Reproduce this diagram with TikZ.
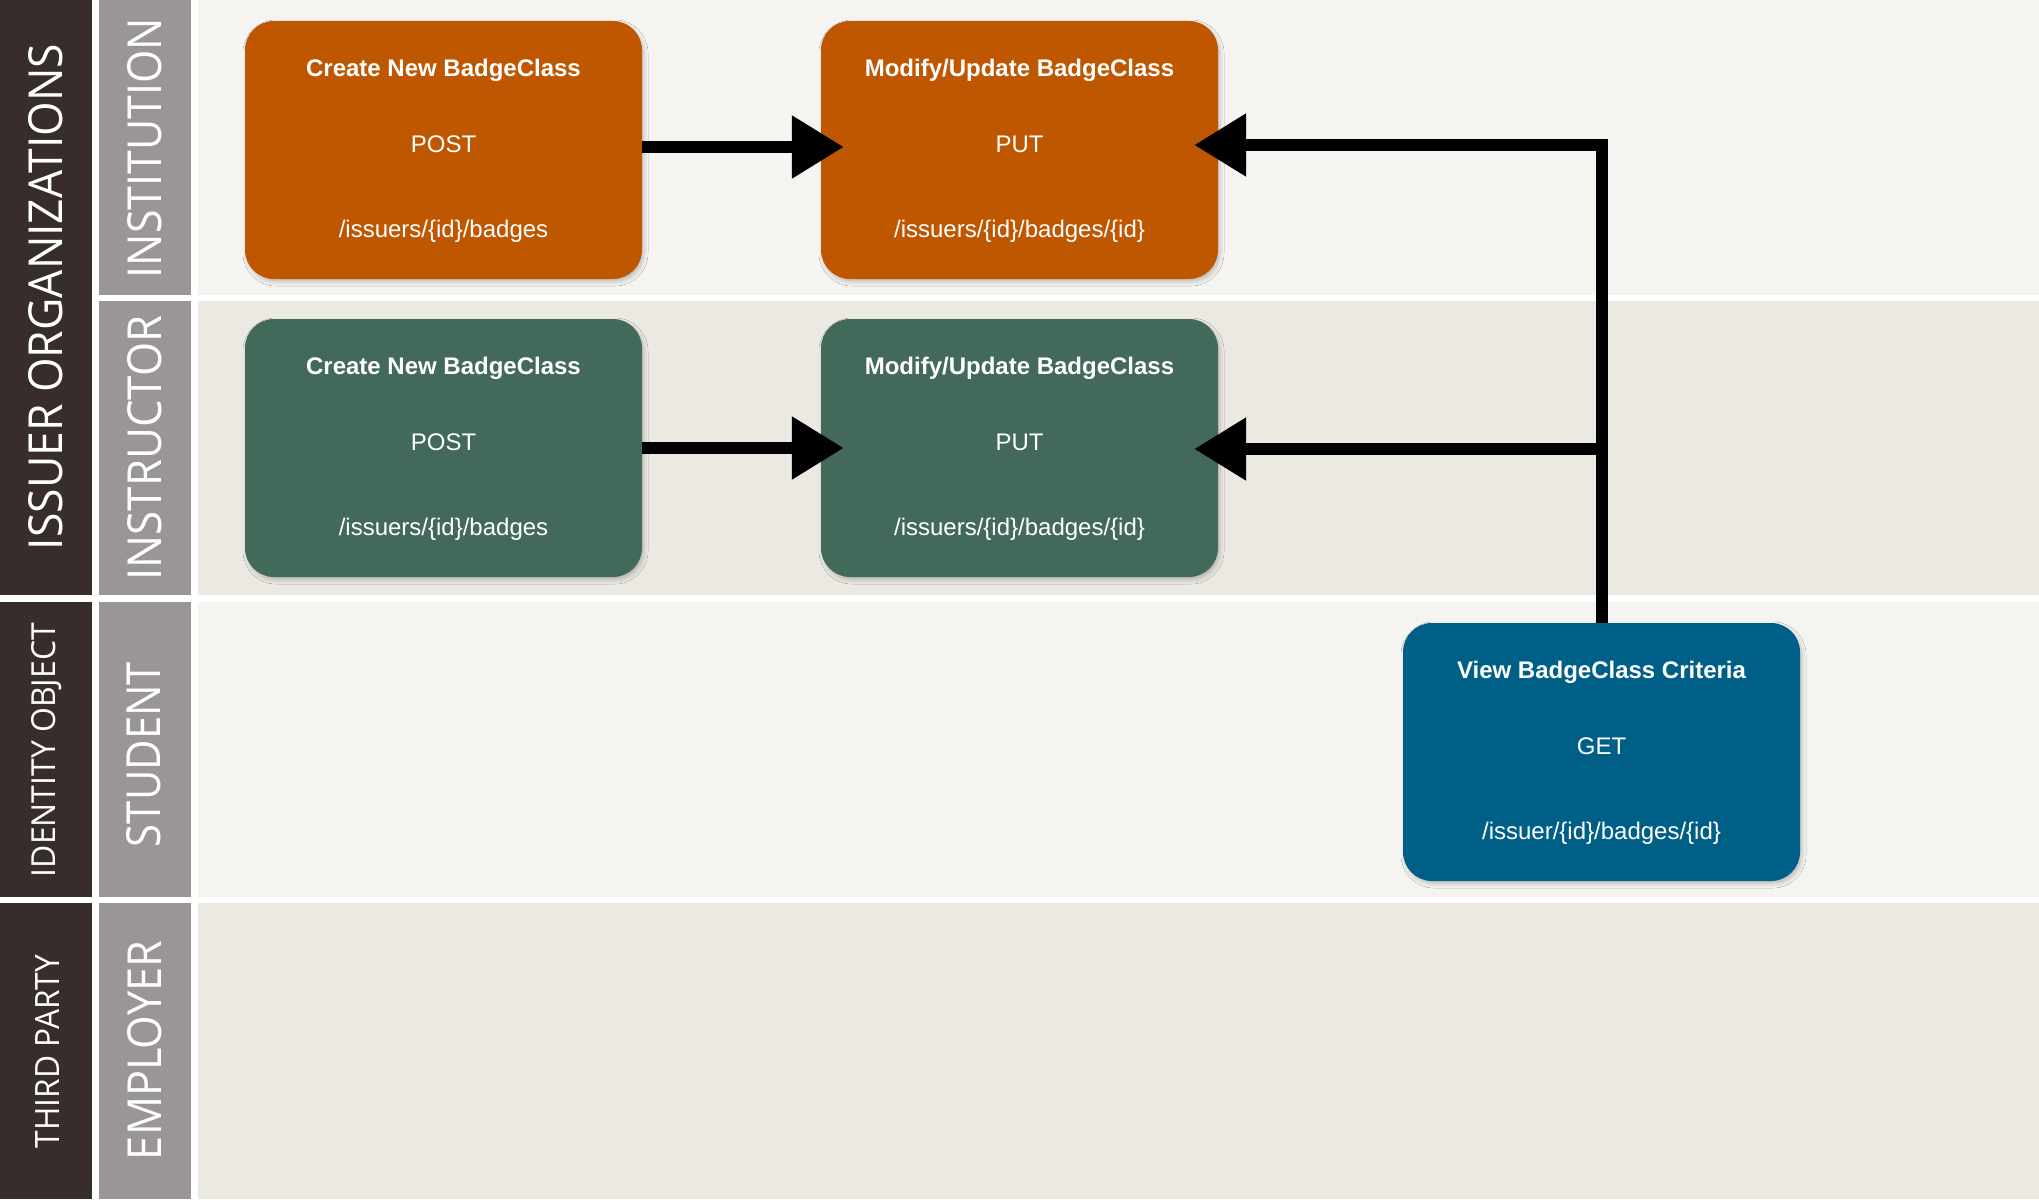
\documentclass[tikz,border=0pt]{standalone}
\usepackage{fontspec}
\setmainfont{Liberation Sans}
\newfontfamily\lanefont{Open Sans}
\usetikzlibrary{arrows.meta,shadows.blur}

\definecolor{laneLight}{RGB}{245,244,241}
\definecolor{laneDark}{RGB}{236,233,227}
\definecolor{headDark}{RGB}{55,46,44}
\definecolor{headGray}{RGB}{155,150,150}
\definecolor{burntOrange}{RGB}{191,87,0}
\definecolor{slateGreen}{RGB}{67,105,91}
\definecolor{deepBlue}{RGB}{0,95,134}

% one rounded card with title, HTTP method and endpoint
\newcommand\apicard[7]{%
  \node[card, fill=#4] (#1) at (#2,#3) {};
  \node[cardtitle] (#1t) at ([yshift=-56pt]#1.north) {#5};
  \node[cardtext]  (#1m) at ([yshift=-132pt]#1.north) {#6};
  \node[cardtext]  (#1p) at ([yshift=-217pt]#1.north) {#7};
}

\begin{document}
\begin{tikzpicture}[x=1pt,y=-1pt,
  card/.style={rectangle, rounded corners=29pt, minimum width=397pt,
    minimum height=258pt, inner sep=0pt, draw=none,
    blur shadow={shadow xshift=2pt, shadow yshift=-3pt,
      shadow blur radius=4pt, shadow opacity=22}},
  cardtitle/.style={anchor=base, text=white, inner sep=0pt,
    font=\fontsize{24pt}{28pt}\selectfont\bfseries},
  cardtext/.style={anchor=base, text=white, inner sep=0pt,
    font=\fontsize{24pt}{28pt}\selectfont},
  lanelabel/.style={rotate=90, inner sep=0pt, text=white, font=\lanefont},
  conn/.style={line width=12pt, line join=miter,
    -{Triangle[length=52pt,width=60pt]}}]

\useasboundingbox (0,0) rectangle (2039,1199);
\fill[white] (0,0) rectangle (2039,1199);

% swimlane backgrounds
\fill[laneLight] (198,0)   rectangle (2039,295);
\fill[laneDark]  (198,301) rectangle (2039,595);
\fill[laneLight] (198,602) rectangle (2039,897);
\fill[laneDark]  (198,903) rectangle (2039,1199);

% role column
\fill[headGray] (99,0)   rectangle (191,295);
\fill[headGray] (99,301) rectangle (191,595);
\fill[headGray] (99,602) rectangle (191,897);
\fill[headGray] (99,903) rectangle (191,1199);

% group column
\fill[headDark] (0,0)   rectangle (92,595);
\fill[headDark] (0,602) rectangle (92,897);
\fill[headDark] (0,903) rectangle (92,1199);

% lane headings
\node[lanelabel] (gIssuer)   at (46,297)    {\resizebox{506pt}{34pt}{ISSUER ORGANIZATIONS}};
\node[lanelabel] (gIdentity) at (47,750)    {\resizebox{254pt}{24pt}{IDENTITY OBJECT}};
\node[lanelabel] (gThird)    at (47,1051.5) {\resizebox{193pt}{24pt}{THIRD PARTY}};
\node[lanelabel] (rInst)     at (145,148)   {\resizebox{260pt}{34pt}{INSTITUTION}};
\node[lanelabel] (rInstr)    at (145,448)   {\resizebox{265pt}{34pt}{INSTRUCTOR}};
\node[lanelabel] (rStudent)  at (144,754.5) {\resizebox{185pt}{34pt}{STUDENT}};
\node[lanelabel] (rEmployer) at (145,1050.5){\resizebox{219pt}{34pt}{EMPLOYER}};

% API cards
\apicard{instCreate}{443.5}{150}{burntOrange}{Create New BadgeClass}{POST}{/issuers/\{id\}/badges}
\apicard{instModify}{1019.5}{150}{burntOrange}{Modify/Update BadgeClass}{PUT}{/issuers/\{id\}/badges/\{id\}}
\apicard{instrCreate}{443.5}{448}{slateGreen}{Create New BadgeClass}{POST}{/issuers/\{id\}/badges}
\apicard{instrModify}{1019.5}{448}{slateGreen}{Modify/Update BadgeClass}{PUT}{/issuers/\{id\}/badges/\{id\}}
\apicard{criteria}{1601.5}{752}{deepBlue}{View BadgeClass Criteria}{GET}{/issuer/\{id\}/badges/\{id\}}

% connectors
\draw[conn] ([yshift=3pt]instCreate.east) -- ([xshift=23pt,yshift=3pt]instModify.west);
\draw[conn] (instrCreate.east) -- ([xshift=23pt]instrModify.west);
\draw[conn] (criteria.north) |- ([xshift=-24pt,yshift=5pt]instModify.east);
\draw[conn] (criteria.north) |- ([xshift=-24pt,yshift=-1pt]instrModify.east);

\end{tikzpicture}
\end{document}
